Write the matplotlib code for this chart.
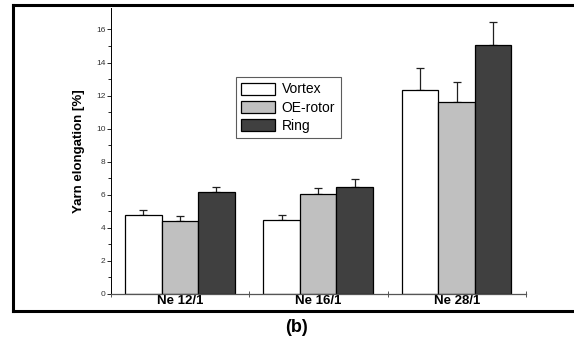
import numpy as np
import matplotlib
matplotlib.use("Agg")
import matplotlib.pyplot as plt
from matplotlib.lines import Line2D

plt.rcParams['font.family'] = ['Liberation Sans', 'DejaVu Sans']

# data
groups   =  ['Ne 12/1', 'Ne 16/1', 'Ne 28/1']
series   =  ['Vortex', 'OE-rotor', 'Ring']
values   =  {'Vortex'  : [4.77, 4.45, 12.32],
             'OE-rotor': [4.43, 6.02, 11.63],
             'Ring'    : [6.18, 6.48, 15.08]}
errors   =  {'Vortex'  : [0.30, 0.33, 1.35],
             'OE-rotor': [0.30, 0.42, 1.19],
             'Ring'    : [0.30, 0.46, 1.36]}
colors   =  ['#ffffff', '#c0c0c0', '#404040']
yticks   =  np.arange(0, 17, 2)

fig  =  plt.figure(figsize=(5.74, 3.42), dpi=100)
ax   =  fig.add_axes([0.1934, 0.1404, 0.7230, 0.8362])

width  =  0.265
x0     =  np.arange(len(groups)) + 0.1 + width/2
for i, name in enumerate(series):
    xs  =  x0 + i*width
    ax.bar(xs, values[name], width, color=colors[i], edgecolor='k', linewidth=0.9,
           label=name, zorder=2)
    yerr  =  np.vstack((np.zeros(len(groups)), errors[name]))
    ax.errorbar(xs, values[name], yerr=yerr, fmt='none', ecolor='#202020',
                elinewidth=0.9, capsize=3, capthick=0.9, zorder=1)

ax.set_xlim(0, 3)
ax.set_ylim(0, 17.3)

# x axis: ticks at group borders, labels in group centres
ax.set_xticks([0, 1, 2, 3])
ax.set_xticklabels([])
ax.set_xticks(np.arange(len(groups)) + 0.5, minor=True)
ax.set_xticklabels(groups, minor=True, fontsize=9.5, fontweight='bold')
ax.tick_params(axis='x', which='major', direction='inout', length=4, width=0.7, color='#555555')
ax.tick_params(axis='x', which='minor', length=0, pad=1)

ax.set_yticks(yticks)
ax.set_yticklabels(yticks, fontsize=6, color='#333333')
ax.set_yticks(np.arange(1, 17, 2), minor=True)
ax.tick_params(axis='y', which='major', length=3, width=0.6, pad=1)
ax.tick_params(axis='y', which='minor', length=2, width=0.6)

ax.set_ylabel('Yarn elongation [%]', fontsize=9.5, fontweight='bold', labelpad=8)

for s in ['top', 'right']:
    ax.spines[s].set_visible(False)
ax.spines['left'].set_linewidth(0.7)
ax.spines['bottom'].set_linewidth(0.9)
ax.spines['bottom'].set_color('#555555')

leg  =  ax.legend(loc='upper left', bbox_to_anchor=(0.301, 0.759), fontsize=10,
                  frameon=True, fancybox=False, edgecolor='#333333',
                  handlelength=2.4, handleheight=1.0, labelspacing=0.3,
                  borderpad=0.4, handletextpad=0.5, borderaxespad=0)
leg.get_frame().set_linewidth(0.8)

# outer frame around panel
W, H  =  574.0, 342.0
fl  =  dict(color='k', linewidth=2.2, transform=fig.transFigure)
fig.add_artist(Line2D([13/W, 1], [1-5/H, 1-5/H], **fl))
fig.add_artist(Line2D([13/W, 13/W], [1-5/H, 1-311/H], **fl))
fig.add_artist(Line2D([13/W, 1], [1-311/H, 1-311/H], **fl))

fig.text(297/W, 1-328/H, '(b)', fontsize=13, fontweight='bold', ha='center', va='center')

plt.savefig('out.png', dpi=100)
